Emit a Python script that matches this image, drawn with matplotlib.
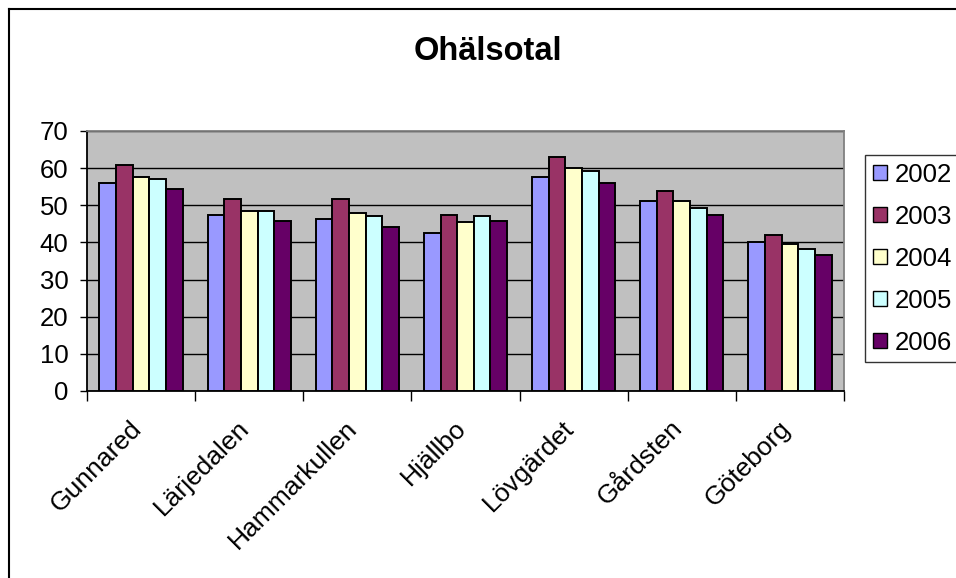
import numpy as np
import matplotlib.pyplot as plt
import matplotlib.transforms as mtrans
from matplotlib.patches import Patch
from matplotlib.lines import Line2D

plt.rcParams['font.family'] = ['Liberation Sans', 'DejaVu Sans']

# Data
areas = ['Gunnared', 'Lärjedalen', 'Hammarkullen', 'Hjällbo', 'Lövgärdet', 'Gårdsten', 'Göteborg']
years = ['2002', '2003', '2004', '2005', '2006']
v2002 = [56.0, 47.3, 46.3, 42.5, 57.5, 51.1, 40.2]
v2003 = [60.8, 51.6, 51.6, 47.3, 62.9, 53.8, 41.9]
v2004 = [57.5, 48.5, 47.8, 45.6, 60.1, 51.1, 39.6]
v2005 = [57.0, 48.5, 47.2, 47.2, 59.1, 49.4, 38.2]
v2006 = [54.3, 45.8, 44.1, 45.8, 56.0, 47.3, 36.5]
series = [v2002, v2003, v2004, v2005, v2006]
colors = ['#9999FF', '#993366', '#FFFFCC', '#CCFFFF', '#660066']

W, H = 956, 578
fig = plt.figure(figsize=(W / 100, H / 100), dpi=100)
ax = fig.add_axes([87 / W, 1 - 391 / H, (844 - 87) / W, (391 - 131) / H])
ax.set_facecolor('#C0C0C0')

x = np.arange(len(areas))
bw = 1 / 6.5
for i, (vals, c) in enumerate(zip(series, colors)):
    ax.bar(x + (i - 2) * bw, vals, width=bw, color=c, edgecolor='black', linewidth=1.4, zorder=3)

ax.set_xlim(-0.5, len(areas) - 0.5)
ax.set_ylim(0, 70)
ax.set_yticks(range(0, 71, 10))
ax.tick_params(axis='y', labelsize=18.5, length=5.3, width=1, direction='out', pad=8)
ax.yaxis.grid(True, color='black', linewidth=1, zorder=1)

# ticks at category boundaries, labels drawn at centres
ax.set_xticks(np.arange(-0.5, len(areas)))
ax.set_xticklabels([])
ax.tick_params(axis='x', length=7, width=1, direction='out')
off = mtrans.ScaledTranslation(-12 / 100, -25 / 100, fig.dpi_scale_trans)
for xi, name in zip(x, areas):
    ax.text(xi, 0, name, transform=ax.get_xaxis_transform() + off,
            rotation=45, ha='right', va='top', rotation_mode='anchor', fontsize=19)

ax.spines['left'].set_color('black')
ax.spines['bottom'].set_color('black')
ax.spines['top'].set_color('#808080')
ax.spines['right'].set_color('#808080')
for s in ax.spines.values():
    s.set_linewidth(1.3)

fig.text(488 / W, 1 - 52 / H, 'Ohälsotal', ha='center', va='center',
         fontsize=23.5, fontweight='bold')

handles = [Patch(facecolor=c, edgecolor='black', linewidth=1) for c in colors]
leg = fig.legend(handles, years, loc='upper left', bbox_to_anchor=(865 / W, 1 - 155 / H),
                 fontsize=18.5, frameon=True, fancybox=False, edgecolor='black',
                 handlelength=0.55, handleheight=0.55, handletextpad=0.3,
                 labelspacing=0.7, borderpad=0.3, borderaxespad=0)
leg.get_frame().set_linewidth(1)

# outer chart frame (left and top edges visible)
fig.add_artist(Line2D([9 / W, 9 / W], [0, 1 - 9 / H], color='black', linewidth=1.5))
fig.add_artist(Line2D([9 / W, 1], [1 - 9 / H, 1 - 9 / H], color='black', linewidth=1.5))

fig.savefig('out.png', dpi=100)
